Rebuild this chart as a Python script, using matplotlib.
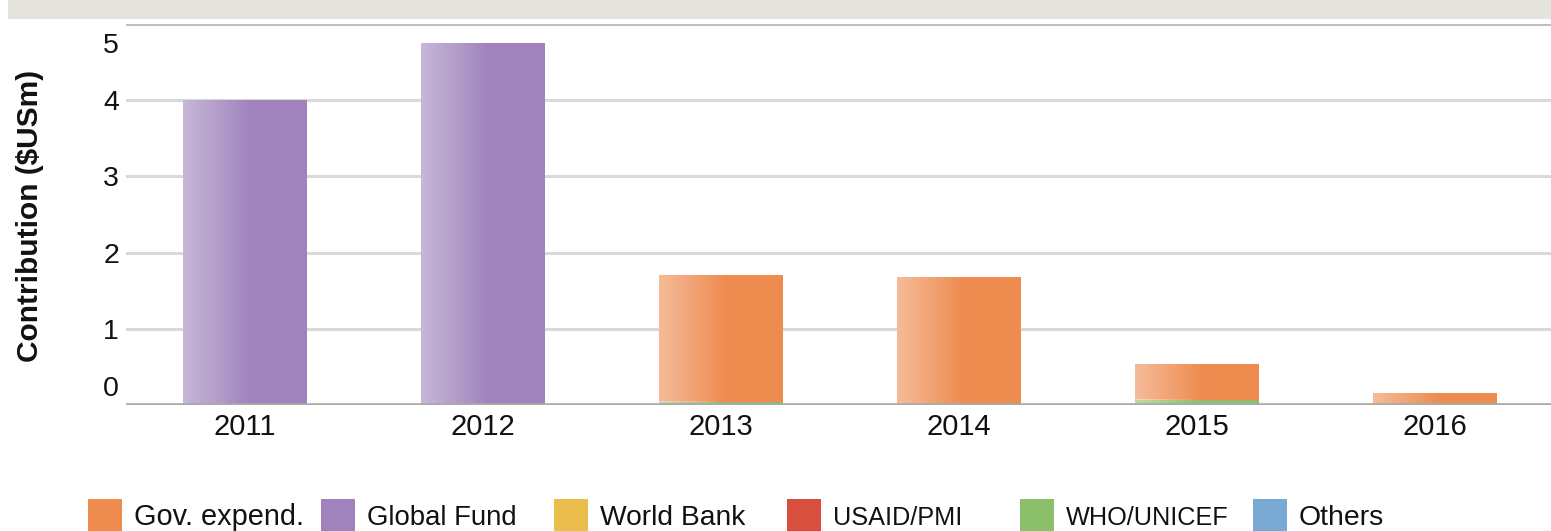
import numpy as np
import matplotlib
matplotlib.use('Agg')
import matplotlib.pyplot as plt
from matplotlib.patches import Rectangle
from matplotlib.transforms import ScaledTranslation

# data
years = ['2011', '2012', '2013', '2014', '2015', '2016']
gov_expend = [0.0, 0.0, 1.67, 1.68, 0.47, 0.14]
global_fund = [4.0, 4.75, 0.0, 0.0, 0.0, 0.0]
world_bank = [0.0, 0.0, 0.0, 0.0, 0.0, 0.0]
usaid_pmi = [0.0, 0.0, 0.0, 0.0, 0.0, 0.0]
who_unicef = [0.0, 0.0, 0.04, 0.0, 0.07, 0.02]
others = [0.0, 0.0, 0.0, 0.0, 0.0, 0.0]

legend_labels = ['Gov. expend.', 'Global Fund', 'World Bank', 'USAID/PMI', 'WHO/UNICEF', 'Others']
yticks = [0, 1, 2, 3, 4, 5]

colors = {'Gov. expend.': '#EE8B4F', 'Global Fund': '#A083BC', 'World Bank': '#E9BE4C',
          'USAID/PMI': '#D94F3F', 'WHO/UNICEF': '#8CBF69', 'Others': '#7BA9D6'}
# the legend texts are squeezed to fit their columns in the original
legend_sizes = {'Gov. expend.': 20.8, 'Global Fund': 19.8, 'World Bank': 20.3,
                'USAID/PMI': 18.2, 'WHO/UNICEF': 18.2, 'Others': 20.4}

plt.rcParams['font.family'] = ['Liberation Sans', 'DejaVu Sans']

W, H = 1551, 531
fig = plt.figure(figsize=(W / 100, H / 100), dpi=100)

# grey banner at the top (title cut off)
fig.patches.append(Rectangle((8 / W, 1 - 19 / H), 1, 19 / H, transform=fig.transFigure,
                             facecolor='#E4E3DE', edgecolor='none'))

ax = fig.add_axes([126 / W, (H - 405) / H, (W - 126) / W, (405 - 24) / H])
x = np.arange(len(years))
bw = 124 / 238

# stack from the bottom: Others, WHO/UNICEF, USAID/PMI, World Bank, Global Fund, Gov. expend.
stack = [('Others', others), ('WHO/UNICEF', who_unicef), ('USAID/PMI', usaid_pmi),
         ('World Bank', world_bank), ('Global Fund', global_fund), ('Gov. expend.', gov_expend)]

# white fade on the left part of each bar
grad = np.zeros((1, 100, 4))
grad[0, :, :3] = 1.0
fade = np.clip(1 - np.linspace(0, 1, 100) / 0.55, 0, 1)
grad[0, :, 3] = 0.42 * fade

bottom = np.zeros(len(years))
for name, vals in stack:
    vals = np.array(vals)
    bars = ax.bar(x, vals, bw, bottom=bottom, color=colors[name], linewidth=0, zorder=2)
    for p in bars:
        if p.get_height() > 0:
            ax.imshow(grad, extent=(p.get_x(), p.get_x() + p.get_width(),
                                    p.get_y(), p.get_y() + p.get_height()),
                      aspect='auto', interpolation='bilinear', zorder=2.5)
    bottom += vals

ax.set_xlim(-0.5, -0.5 + (W - 126) / 238)
ax.set_ylim(0, 5)

# gridlines
for v in yticks[1:]:
    ax.axhline(v, color='#D9D9D9', lw=2.2, zorder=1)
ax.axhline(5, color='#BDBDBD', lw=2.0, zorder=1)
ax.axhline(0, color='#AAAAAA', lw=2.6, zorder=3)

for s in ax.spines.values():
    s.set_visible(False)

ax.set_xticks(x)
ax.set_xticklabels(years, fontsize=21)
ax.set_yticks(yticks)
ax.set_yticklabels([str(t) for t in yticks], fontsize=20.5)
ax.tick_params(axis='both', length=0, colors='#111111')
ax.tick_params(axis='x', pad=6)
ax.tick_params(axis='y', pad=5)

ylabs = ax.get_yticklabels()
ylabs[0].set_va('bottom')
ylabs[0].set_transform(ylabs[0].get_transform() + ScaledTranslation(0, 0.03, fig.dpi_scale_trans))
ylabs[-1].set_va('top')
ylabs[-1].set_transform(ylabs[-1].get_transform() + ScaledTranslation(0, -0.09, fig.dpi_scale_trans))

fig.text(30 / W, 1 - 216 / H, 'Contribution ($USm)', rotation=90, fontsize=21.5,
         fontweight='bold', ha='center', va='center', color='#111111')

# legend in equal-width columns
for i, lab in enumerate(legend_labels):
    x0 = 88 + i * 233
    fig.patches.append(Rectangle((x0 / W, 0), 34 / W, 32 / H, transform=fig.transFigure,
                                 facecolor=colors[lab], edgecolor='none'))
    fig.text((x0 + 46) / W, 1 - 525 / H, lab, fontsize=legend_sizes[lab], ha='left',
             va='baseline', color='#111111')

fig.savefig('out.png', dpi=100)
